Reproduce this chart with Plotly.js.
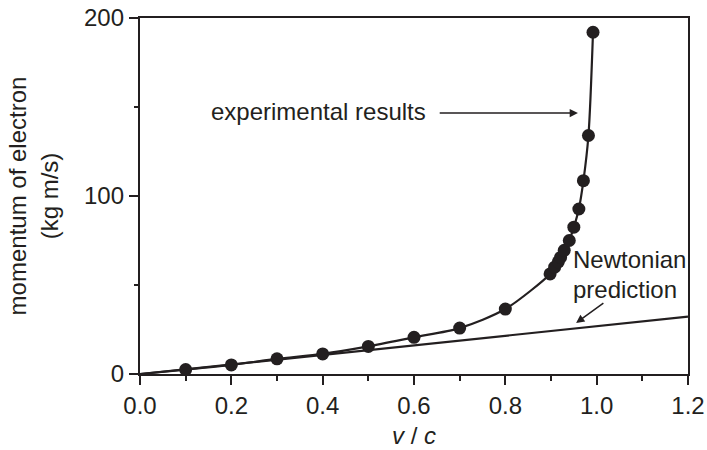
<!DOCTYPE html>
<html>
<head>
<meta charset="utf-8">
<script src="https://cdn.plot.ly/plotly-3.0.1.min.js"></script>
<style>html,body{margin:0;padding:0;background:#fff;}#chart{width:707px;height:450px;}</style>
</head>
<body>
<div id="chart"></div>
<script>
// Experimental measurements (v/c, momentum)
const speedRatio = [0.1, 0.2, 0.3, 0.4, 0.5, 0.6, 0.7, 0.8, 0.898, 0.908, 0.916, 0.921, 0.929, 0.94, 0.95, 0.961, 0.971, 0.982, 0.992];
const momentum   = [2.5, 5.1, 8.5, 11.3, 15.5, 20.6, 25.8, 36.5, 56.2, 60, 63, 65.5, 69.5, 75, 82.5, 92.7, 108.6, 134, 192];
// Fitted curve through origin and the measurements
const curveX = [0].concat(speedRatio);
const curveY = [0].concat(momentum);
// Newtonian prediction endpoints
const newtonX = [0, 1.2];
const newtonY = [0, 32.2];

const ink = '#231f20';
const fontFam = '"Liberation Sans", Arial, Helvetica, sans-serif';
const fs = 24;

const traces = [
  {x: newtonX, y: newtonY, mode: 'lines', line: {color: ink, width: 2.2}, hoverinfo: 'skip'},
  {x: curveX, y: curveY, mode: 'lines', line: {color: ink, width: 2.2, shape: 'spline', smoothing: 0.8}, hoverinfo: 'skip'},
  {x: speedRatio, y: momentum, mode: 'markers', marker: {color: ink, size: 13}, cliponaxis: false}
];

const layout = {
  width: 707, height: 450,
  margin: {l: 139.5, r: 19, t: 18, b: 76},
  paper_bgcolor: '#fff', plot_bgcolor: '#fff',
  showlegend: false,
  font: {family: fontFam, size: fs, color: ink},
  xaxis: {
    range: [0, 1.2], dtick: 0.2, tickformat: '.1f',
    showgrid: false, zeroline: false,
    showline: true, linecolor: ink, linewidth: 2.2, mirror: true,
    ticks: 'outside', ticklen: 9, tickwidth: 2, tickcolor: ink,
    minor: {dtick: 0.1, ticks: 'outside', ticklen: 5, tickwidth: 2, tickcolor: ink, showgrid: false},
    tickfont: {size: fs, color: ink},
    title: {text: '<i>v</i> / <i>c</i>', font: {size: fs, color: ink}, standoff: 9}
  },
  yaxis: {
    range: [0, 200], dtick: 100,
    showgrid: false, zeroline: false,
    showline: true, linecolor: ink, linewidth: 2.2, mirror: true,
    ticks: 'outside', ticklen: 9, tickwidth: 2, tickcolor: ink,
    minor: {dtick: 50, ticks: 'outside', ticklen: 4, tickwidth: 2, tickcolor: ink, showgrid: false},
    tickfont: {size: fs, color: ink},
    title: {text: 'momentum of electron<br>(kg m/s)', font: {size: fs, color: ink}, standoff: 19}
  },
  annotations: [
    {x: 0.15, y: 147.5, xref: 'x', yref: 'y', text: 'experimental results', showarrow: false, xanchor: 'left', yanchor: 'middle', font: {size: fs, color: ink}},
    {x: 0.959, y: 146.6, ax: 0.653, ay: 146.6, xref: 'x', yref: 'y', axref: 'x', ayref: 'y', text: '', showarrow: true, arrowhead: 2, arrowsize: 1.1, arrowwidth: 1.5, arrowcolor: ink, standoff: 0, startstandoff: 0},
    {x: 0.944, y: 64.2, xref: 'x', yref: 'y', text: 'Newtonian', showarrow: false, xanchor: 'left', yanchor: 'middle', font: {size: fs, color: ink}},
    {x: 0.944, y: 47.4, xref: 'x', yref: 'y', text: 'prediction', showarrow: false, xanchor: 'left', yanchor: 'middle', font: {size: fs, color: ink}},
    {x: 0.955, y: 28.7, ax: 1.018, ay: 40.4, xref: 'x', yref: 'y', axref: 'x', ayref: 'y', text: '', showarrow: true, arrowhead: 2, arrowsize: 1.1, arrowwidth: 1.5, arrowcolor: ink, standoff: 0, startstandoff: 0}
  ]
};

Plotly.newPlot('chart', traces, layout, {displayModeBar: false, staticPlot: true});
</script>
</body>
</html>
